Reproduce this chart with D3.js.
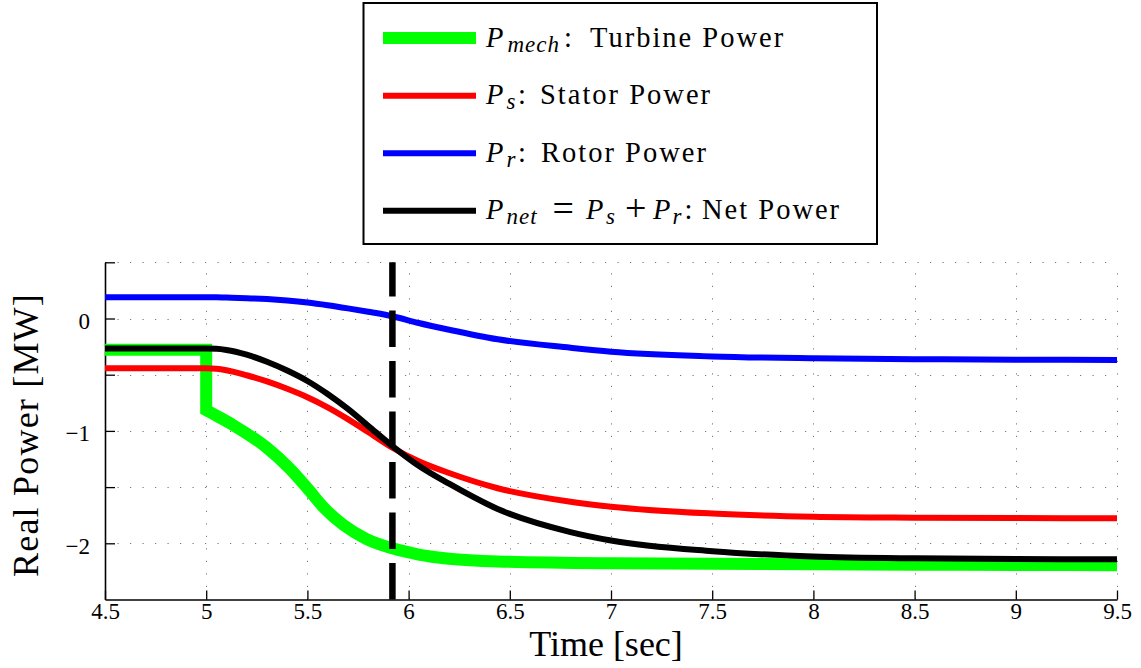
<!DOCTYPE html>
<html>
<head>
<meta charset="utf-8">
<script src="https://cdn.jsdelivr.net/npm/d3@7"></script>
<style>
  html, body { margin: 0; padding: 0; background: #fff; }
  svg { display: block; }
  svg text { font-family: "Liberation Serif", "DejaVu Serif", "Noto Serif", "Times New Roman", serif; white-space: pre; }
</style>
</head>
<body>
<svg id="chart" width="1141" height="668"></svg>
<script>
// Power flows around the turbine step at t = 5 s (values in MW)
const timeSec     = [4.5, 5.0, 5.05, 5.1, 5.2, 5.3, 5.4, 5.5, 5.6, 5.7, 5.8, 5.92, 6.05, 6.2, 6.44, 6.8, 7.0, 7.5, 8.0, 8.5, 9.0, 9.5];
const statorPower = [-0.443, -0.443, -0.447, -0.46, -0.505, -0.56, -0.625, -0.70, -0.79, -0.895, -1.01, -1.15, -1.27, -1.375, -1.51, -1.63, -1.674, -1.735, -1.763, -1.772, -1.776, -1.778];
const rotorPower  = [0.189, 0.189, 0.188, 0.186, 0.181, 0.173, 0.16, 0.142, 0.118, 0.09, 0.06, 0.02, -0.04, -0.10, -0.185, -0.26, -0.295, -0.337, -0.354, -0.362, -0.366, -0.369];
const netPower    = [-0.268, -0.268, -0.27, -0.28, -0.322, -0.385, -0.463, -0.556, -0.672, -0.805, -0.955, -1.135, -1.31, -1.47, -1.695, -1.90, -1.975, -2.07, -2.117, -2.134, -2.14, -2.143];

// Turbine power: constant, then a step at t = 5 s followed by a smooth decay
const turbineStepTime  = [4.5, 5.0];
const turbineStepPower = [-0.278, -0.278];
const turbineTime  = [5.0, 5.02, 5.13, 5.3, 5.41, 5.5, 5.58, 5.68, 5.79, 5.92, 6.05, 6.2, 6.44, 7.0, 7.5, 8.0, 8.5, 9.0, 9.5];
const turbinePower = [-0.815, -0.835, -0.945, -1.15, -1.33, -1.51, -1.68, -1.84, -1.96, -2.045, -2.10, -2.137, -2.162, -2.178, -2.182, -2.187, -2.19, -2.193, -2.195];

const markerTime = 5.92;

const xTicks = [4.5, 5, 5.5, 6, 6.5, 7, 7.5, 8, 8.5, 9, 9.5];
const yTicks = [-2, -1.5, -1, -0.5, 0, 0.5];
const yLabelTicks = [-2, -1, 0];

// Legend entries: text pieces as [text, kind, x]; kind i = italic symbol, s = subscript, o = operator, n = plain
const legendItems = [
  { color: "#00ff00", width: 12, parts: [["P", "i", 486], ["mech", "s", 507.5], [":", "n", 564], ["Turbine Power", "n", 590]] },
  { color: "#ff0000", width: 6,  parts: [["P", "i", 486], ["s", "s", 506.5], [":", "n", 518], ["Stator Power", "n", 540]] },
  { color: "#0000ff", width: 6,  parts: [["P", "i", 486], ["r", "s", 506.5], [":", "n", 518], ["Rotor Power", "n", 541]] },
  { color: "#000000", width: 6,  parts: [["P", "i", 486], ["net", "s", 506.5], ["=", "o", 552.5], ["P", "i", 586], ["s", "s", 606],
                                         ["+", "o", 625], ["P", "i", 653], ["r", "s", 672.5], [":", "n", 684.5], ["Net Power", "n", 702]] }
];

const svg = d3.select("#chart");

const x = d3.scaleLinear().domain([4.5, 9.5]).range([105, 1117]);
const y = d3.scaleLinear().domain([-2.5, 0.5]).range([599.5, 262.3]);

// Dotted grid
const grid = svg.append("g").attr("stroke", "#777").attr("stroke-width", 1)
  .attr("stroke-dasharray", "1.2,11.3").attr("fill", "none");
grid.selectAll("line.h").data(yTicks).join("line").attr("class", "h")
  .attr("x1", x(4.5)).attr("x2", x(9.5))
  .attr("y1", d => Math.round(y(d)) + 0.5).attr("y2", d => Math.round(y(d)) + 0.5);
grid.selectAll("line.v").data(xTicks.slice(1)).join("line").attr("class", "v")
  .attr("x1", d => Math.round(x(d)) + 0.5).attr("x2", d => Math.round(x(d)) + 0.5)
  .attr("y1", y(-2.5)).attr("y2", y(0.5));

// Axes (left and bottom, ticks pointing inward)
const fmt = d => d3.format("")(d);
const xAxis = d3.axisBottom(x).tickValues(xTicks).tickSizeInner(-9).tickSizeOuter(0).tickPadding(0)
  .tickFormat(fmt);
const yAxis = d3.axisLeft(y).tickValues(yTicks).tickSizeInner(-10).tickSizeOuter(0).tickPadding(0)
  .tickFormat(d => yLabelTicks.includes(d) ? fmt(d) : "");

const gx = svg.append("g").attr("transform", `translate(0,${y(-2.5)})`).call(xAxis);
const gy = svg.append("g").attr("transform", `translate(${x(4.5)},0)`).call(yAxis);

[gx, gy].forEach(g => {
  g.attr("font-family", null);
  g.select(".domain").attr("stroke", "#000").attr("stroke-width", 1.6);
  g.selectAll(".tick line").attr("stroke", "#000").attr("stroke-width", 1.3);
  g.selectAll(".tick text").attr("fill", "#000").style("font-size", "23px");
});
gx.selectAll(".tick text").attr("y", 19).attr("dy", null);
gy.selectAll(".tick text").attr("x", -15).attr("dy", "0.37em").attr("y", 1.5);

// Axis titles
svg.append("text").attr("x", 606).attr("y", 656).attr("text-anchor", "middle")
  .style("font-size", "36px").text("Time [sec]");
svg.append("text").attr("transform", "translate(38,435) rotate(-90)").attr("text-anchor", "middle")
  .style("font-size", "36px").style("letter-spacing", "1.2px").text("Real Power [MW]");

// Series
const mono = d3.line().x(d => x(d[0])).y(d => y(d[1])).curve(d3.curveMonotoneX);
const straight = d3.line().x(d => x(d[0])).y(d => y(d[1]));

const stepPts = turbineStepTime.map((t, i) => [t, turbineStepPower[i]]);
const decayPts = turbineTime.map((t, i) => [t, turbinePower[i]]);
const turbinePath = straight(stepPts) + mono(decayPts).replace(/^M/, "L");

const curves = svg.append("g").attr("fill", "none").attr("stroke-linejoin", "miter").attr("stroke-linecap", "butt");
curves.append("path").attr("d", turbinePath).attr("stroke", "#00ff00").attr("stroke-width", 12);
curves.append("path").attr("d", mono(timeSec.map((t, i) => [t, statorPower[i]])))
  .attr("stroke", "#ff0000").attr("stroke-width", 6);
curves.append("path").attr("d", mono(timeSec.map((t, i) => [t, rotorPower[i]])))
  .attr("stroke", "#0000ff").attr("stroke-width", 6);
curves.append("path").attr("d", mono(timeSec.map((t, i) => [t, netPower[i]])))
  .attr("stroke", "#000000").attr("stroke-width", 6);

// Dashed marker line
svg.append("line")
  .attr("x1", x(markerTime)).attr("x2", x(markerTime))
  .attr("y1", y(-2.5)).attr("y2", y(0.5))
  .attr("stroke", "#000").attr("stroke-width", 6.5).attr("stroke-dasharray", "36.6,13.9");

// Legend
const legend = svg.append("g");
legend.append("rect").attr("x", 363.5).attr("y", 3).attr("width", 513.5).attr("height", 241)
  .attr("fill", "#fff").attr("stroke", "#000").attr("stroke-width", 2);
const rowY = [38, 95.7, 153.3, 210.7];
legendItems.forEach((item, i) => {
  legend.append("line").attr("x1", 383).attr("x2", 476).attr("y1", rowY[i]).attr("y2", rowY[i])
    .attr("stroke", item.color).attr("stroke-width", item.width);
  const base = rowY[i] + 8.5;
  const txt = legend.append("text").attr("y", base).style("font-size", "28.5px");
  item.parts.forEach(([s, kind, px]) => {
    const ts = txt.append("tspan").attr("x", px).attr("y", base).text(s);
    if (kind === "i") {
      ts.style("font-style", "italic");
    } else if (kind === "s") {
      ts.style("font-style", "italic").style("font-size", "23px").style("letter-spacing", "1px")
        .attr("y", base + 5);
    } else if (kind === "o") {
      ts.style("font-size", "38px").attr("y", base + 2);
    } else {
      ts.style("letter-spacing", "2px");
    }
  });
});
</script>
</body>
</html>
